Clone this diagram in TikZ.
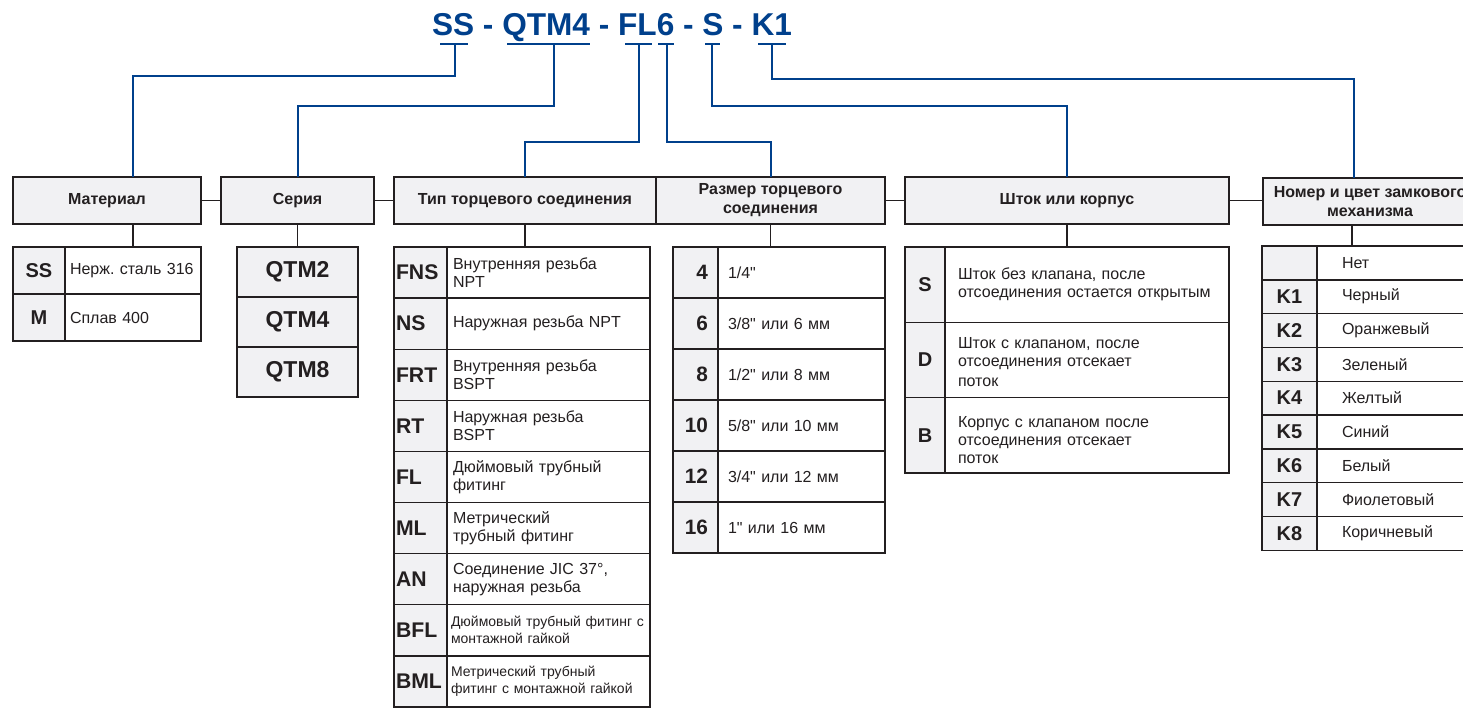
\documentclass[tikz,border=0pt]{standalone}
\usepackage{fontspec}
\setmainfont{Liberation Sans}
\usetikzlibrary{positioning}

\definecolor{codeblue}{RGB}{0,64,140}
\definecolor{frame}{RGB}{35,31,32}
\definecolor{cellgray}{RGB}{241,241,243}
% straight inch mark, kept out of the TeX quote mapping
\newcommand\inchmark{\XeTeXglyph\XeTeXcharglyph"22\relax}
\frenchspacing

\begin{document}
\begin{tikzpicture}[x=0.5pt, y=-0.5pt,
    title/.style={text=codeblue, font=\fontsize{15.8}{18}\selectfont\bfseries, inner sep=0pt, anchor=base},
    hdr/.style={draw=frame, fill=cellgray, line width=0.7pt, anchor=north west,
                inner sep=0pt, outer sep=0pt, align=center, text=frame,
                minimum height=23.5pt, font=\fontsize{8}{9.5}\selectfont\bfseries},
    codecell/.style={draw=frame, fill=cellgray, line width=0.7pt, anchor=north west,
                     inner sep=0pt, outer sep=0pt, text=frame,
                     font=\fontsize{10}{12}\selectfont\bfseries},
    desccell/.style={draw=frame, fill=white, line width=0.7pt, anchor=north west,
                     inner ysep=0pt, outer sep=0pt, align=left, text=frame,
                     font=\fontsize{8}{9}\selectfont},
    link/.style={draw=frame, line width=0.7pt},
    codeline/.style={draw=codeblue, line width=1pt}
  ]
    \useasboundingbox (0,0) rectangle (1463,708);
    \clip (0,0) rectangle (1463,708);

    % ordering code
    \node[title] (code) at (612,35) {SS - QTM4 - FL6 - S - K1};
    \coordinate (uSS)   at (455,44);
    \coordinate (uQTM)  at (554,44);
    \coordinate (uFL)   at (639,44);
    \coordinate (uSize) at (667,44);
    \coordinate (uRod)  at (712,44);
    \coordinate (uLock) at (772,44);
    \foreach \a/\b in {440/468, 507/590, 625/652, 658/674, 705/720, 758/786}
      \draw[codeline] (\a,44) -- (\b,44);

    % headers
    \node[hdr, minimum width=94pt]    (mat)  at (13,177)   {Материал};
    \node[hdr, minimum width=76.5pt]  (ser)  at (221,177)  {Серия};
    \node[hdr, minimum width=131pt]   (typ)  at (394,177)  {Тип торцевого соединения};
    \node[hdr, minimum width=114.5pt, right=0pt of typ] (siz) {Размер торцевого\\соединения};
    \node[hdr, minimum width=162pt]   (rod)  at (905,177)  {Шток или корпус};
    \node[hdr, minimum width=107pt]   (lock) at (1263,178) {Номер и цвет замкового\\механизма};

    \draw[link] (mat) -- (ser);
    \draw[link] (ser) -- (typ);
    \draw[link] (siz.east) -- (siz.east -| rod.west);
    \draw[link] (rod.east) -- (rod.east -| lock.west);

    % material
    \foreach \code/\desc [count=\i from 0] in {SS/{Нерж. сталь 316}, M/{Сплав 400}} {
      \node[codecell, minimum width=26pt, minimum height=23.5pt] (mc\i) at (13,{247+47*\i}) {\code};
      \node[desccell, minimum height=23.5pt, inner xsep=2.5pt, text width=63pt] (md\i) at (65,{247+47*\i}) {\desc};
    }

    % series
    \foreach \code [count=\i from 0] in {QTM2, QTM4, QTM8}
      \node[codecell, minimum width=60.5pt, minimum height=25pt,
            font=\fontsize{11.5}{13}\selectfont\bfseries] (sc\i) at (237,{247+50*\i}) {\code};

    % end connection type
    \foreach \code/\desc [count=\i from 0] in {FNS/{Внутренняя резьба\\NPT}, NS/{Наружная резьба NPT},
        FRT/{Внутренняя резьба\\BSPT}, RT/{Наружная резьба\\BSPT}, FL/{Дюймовый трубный\\фитинг},
        ML/{Метрический\\трубный фитинг}, AN/{Соединение JIC 37°,\\наружная резьба}} {
      \node[codecell, minimum height=25.55pt, inner xsep=1pt, text width=24.5pt, align=left,
            font=\fontsize{10.6}{12}\selectfont\bfseries] (tc\i) at (394,{247+51.1*\i}) {\code};
      \node[desccell, minimum height=25.55pt, inner xsep=3pt, text width=95.5pt] (td\i) at (447,{247+51.1*\i}) {\desc};
    }
    \foreach \code/\desc [count=\i from 7] in {BFL/{Дюймовый трубный фитинг с\\монтажной гайкой},
        BML/{Метрический трубный\\фитинг с монтажной гайкой}} {
      \node[codecell, minimum height=25.55pt, inner xsep=1pt, text width=24.5pt, align=left,
            font=\fontsize{10.6}{12}\selectfont\bfseries] (tc\i) at (394,{247+51.1*\i}) {\code};
      \node[desccell, minimum height=25.55pt, inner xsep=2pt, text width=97.5pt,
            font=\fontsize{7}{8.5}\selectfont] (td\i) at (447,{247+51.1*\i}) {\desc};
    }

    % end connection size
    \foreach \code/\desc [count=\i from 0] in {4/{1/4\inchmark}, 6/{3/8\inchmark{} или 6 мм},
        8/{1/2\inchmark{} или 8 мм}, 10/{5/8\inchmark{} или 10 мм},
        12/{3/4\inchmark{} или 12 мм}, 16/{1\inchmark{} или 16 мм}} {
      \node[codecell, minimum height=25.5pt, inner xsep=5pt, text width=12.5pt, align=right,
            font=\fontsize{10.4}{12}\selectfont\bfseries] (zc\i) at (673,{247+51*\i}) {\code};
      \node[desccell, minimum height=25.5pt, inner xsep=5pt, text width=73.5pt] (zd\i) at (718,{247+51*\i}) {\desc};
    }

    % stem or body
    \foreach \code/\desc/\drop [count=\i from 0] in {S/{Шток без клапана, после\\отсоединения остается открытым}/5pt,
        D/{Шток с клапаном, после\\отсоединения отсекает\\[1pt]поток}/8pt,
        B/{Корпус с клапаном после\\отсоединения отсекает\\поток}/10pt} {
      \node[codecell, minimum width=20pt, minimum height=37.67pt] (rc\i) at (905,{247+75.33*\i}) {\code};
      \node[desccell, minimum height=37.67pt, inner xsep=6.5pt, text width=129pt] (rd\i) at (945,{247+75.33*\i})
        {\rule{0pt}{\drop}\\[-9pt]\desc};
    }

    % lock ring
    \foreach \code/\desc [count=\i from 0] in {{}/Нет, K1/Черный, K2/Оранжевый, K3/Зеленый, K4/Желтый,
        K5/Синий, K6/Белый, K7/Фиолетовый, K8/Коричневый} {
      \node[codecell, minimum width=27.5pt, minimum height=16.9pt] (kc\i) at (1262,{246+33.8*\i}) {\code};
      \node[desccell, minimum height=16.9pt, inner xsep=12.5pt, text width=55pt] (kd\i) at (1317,{246+33.8*\i}) {\desc};
    }

    % drops to tables
    \draw[link] (133,0 |- mat.south) -- (133,0 |- md0.north);
    \draw[link] (ser.south) -- (sc0.north);
    \draw[link] (typ.south) -- (typ.south |- tc0.north);
    \draw[link] (siz.south) -- (siz.south |- zc0.north);
    \draw[link] (rod.south) -- (rod.south |- rd0.north);
    \draw[link] (1352,0 |- lock.south) -- (1352,0 |- kd0.north);

    % code to header
    \draw[codeline] (uSS)   -- ++(0,32) -| (133,0 |- mat.north);
    \draw[codeline] (uQTM)  -- ++(0,62) -| (ser.north);
    \draw[codeline] (uFL)   -- ++(0,98) -| (typ.north);
    \draw[codeline] (uSize) -- ++(0,98) -| (siz.north);
    \draw[codeline] (uRod)  -- ++(0,62) -| (rod.north);
    \draw[codeline] (uLock) -- ++(0,35) -| (1354,0 |- lock.north);
  \end{tikzpicture}
\end{document}
